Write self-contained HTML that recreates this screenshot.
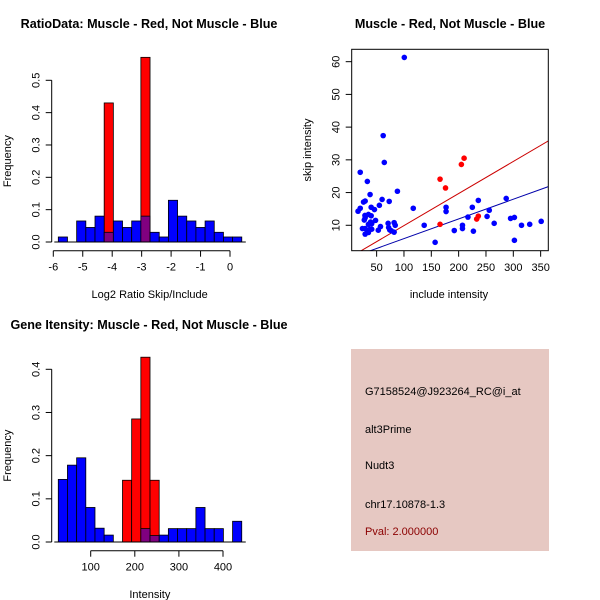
<!DOCTYPE html>
<html><head><meta charset="utf-8"><style>
body{margin:0;background:#fff}
svg{display:block}
text{font-family:"Liberation Sans",sans-serif;font-size:11px;fill:#000}
.t{font-weight:bold;font-size:12.6px}
</style></head><body>
<svg id="s" width="600" height="600"></svg>
<script>
// ---- Panel 1: ratio histogram
const ratioStart = -5.83, ratioBinW = 0.3115;
const ratioBlue = [0.0155,0,0.065,0.045,0.08,0.03,0.065,0.045,0.065,0.08,0.03,0.0155,0.129,0.08,0.065,0.045,0.065,0.03,0.0155,0.0155];
const ratioRed = [0,0,0,0,0,0.43,0,0,0,0.571,0,0,0,0,0,0,0,0,0,0];
const ratioXTicks = [-6,-5,-4,-3,-2,-1,0];
const ratioYTicks = [0,0.1,0.2,0.3,0.4,0.5];
// ---- Panel 2: scatter
const blueX = [100.6,62,64,20,33,88,38,60,73,29,26,55,40,46,20,16,117,35,40,28.6,29,48,27.4,39,41,35,71,82,84,57,53,24,29,33,38,41,35,29,74,77,82,72,137,157,177,177,192,207,207,217,227,225,236,252,256,265,287,295,302,302,315,330,351];
const blueY = [61.3,37.4,29.2,26.2,23.4,20.4,19.4,17.9,17.3,17.4,17.1,16.1,15.5,14.8,15.2,14.3,15.2,13.3,12.9,13,12.3,11.5,11.6,11,10.5,10.3,10.6,10.8,10,9.6,8.5,9,9,8.4,8.8,8.8,7.8,7.3,8.6,8.3,7.9,9.3,10,4.8,15.5,14.2,8.4,10,9,12.5,8.2,15.5,17.6,12.7,14.6,10.6,18.2,12.1,12.4,5.4,10,10.3,11.2];
const redX = [166,176,205,210,166,233,236];
const redY = [24.1,21.4,28.6,30.5,10.3,11.9,12.8];
const redFit = [0.1,0.098];   // intercept, slope
const blueFit = [-0.1,0.0602];
const scXTicks = [50,100,150,200,250,300,350];
const scYTicks = [10,20,30,40,50,60];
// ---- Panel 3: intensity histogram
const intStart = 26.5, intBinW = 20.8;
const intBlue = [0.145,0.178,0.195,0.08,0.032,0.016,0,0,0,0.031,0.015,0.016,0.031,0.031,0.031,0.08,0.031,0.031,0,0.048];
const intRed = [0,0,0,0,0,0,0,0.143,0.285,0.428,0.143,0,0,0,0,0,0,0,0,0];
const intXTicks = [100,200,300,400];
const intYTicks = [0,0.1,0.2,0.3,0.4];

const S = document.getElementById('s'), NS='http://www.w3.org/2000/svg';
function mk(tag, at, parent){const e=document.createElementNS(NS,tag);for(const k in at)e.setAttribute(k,at[k]);(parent||S).appendChild(e);return e;}
function txt(x,y,s,at){const e=mk('text',Object.assign({x:x,y:y},at||{}));e.textContent=s;return e;}

function hist(opts){
  const {x0,x1,v0,v1,yb,yt,d0,d1,start,bw,blue,red,xt,yt2,yAxisX,xAxisY,xlab,xlabY,name}=opts;
  const X=v=>x0+(v-v0)/(v1-v0)*(x1-x0);
  const Y=v=>yb-(v-d0)/(d1-d0)*(yb-yt);
  const g=mk('g',{});  
  red.forEach((v,i)=>{ if(v<=0)return;
    const r=mk('rect',{x:X(start+i*bw),y:Y(v),width:X(start+(i+1)*bw)-X(start+i*bw),height:Y(0)-Y(v),fill:'#ff0000',stroke:'#000','stroke-width':0.8},g);
     });
  blue.forEach((v,i)=>{ if(v<=0)return;
    const over=red[i]>0;
    const r=mk('rect',{x:X(start+i*bw),y:Y(v),width:X(start+(i+1)*bw)-X(start+i*bw),height:Y(0)-Y(v),fill:over?'#800080':'#0000ff',stroke:'#000','stroke-width':0.8},g);
     });
  mk('line',{x1:X(start)-4,x2:X(start+blue.length*bw)+4,y1:Y(0),y2:Y(0),stroke:'#000','stroke-width':1},g);
  const xa=mk('g',{},g);  
  mk('line',{x1:X(xt[0]),x2:X(xt[xt.length-1]),y1:xAxisY,y2:xAxisY,stroke:'#000'},xa);
  xt.forEach(t=>{mk('line',{x1:X(t),x2:X(t),y1:xAxisY,y2:xAxisY+6,stroke:'#000'},xa);
    txt(X(t),xAxisY+20,String(t),{'text-anchor':'middle'});});
  const ya=mk('g',{},g);  
  mk('line',{x1:yAxisX,x2:yAxisX,y1:Y(yt2[0]),y2:Y(yt2[yt2.length-1]),stroke:'#000'},ya);
  yt2.forEach(t=>{mk('line',{x1:yAxisX-6,x2:yAxisX,y1:Y(t),y2:Y(t),stroke:'#000'},ya);
    txt(yAxisX-12,Y(t),t.toFixed(1),{'text-anchor':'middle',transform:'rotate(-90 '+(yAxisX-12)+' '+Y(t)+')'});});
  const xl=txt((X(xt[0])+X(xt[xt.length-1]))/2+ (opts.xlabShift||0),xlabY,xlab,{'text-anchor':'middle'});
   
  const yl=txt(11,(Y(yt2[0])+Y(yt2[yt2.length-1]))/2,'Frequency',{'text-anchor':'middle',transform:'rotate(-90 11 '+((Y(yt2[0])+Y(yt2[yt2.length-1]))/2)+')'});
   
}

let t1=txt(149,28,'RatioData: Muscle - Red, Not Muscle - Blue',{'text-anchor':'middle',class:'t'});
 
hist({x0:53.3,x1:230,v0:-6,v1:0,yb:242,yt:80.3,d0:0,d1:0.5,start:ratioStart,bw:ratioBinW,blue:ratioBlue,red:ratioRed,xt:ratioXTicks,yt2:ratioYTicks,yAxisX:51.7,xAxisY:250.7,xlab:'Log2 Ratio Skip/Include',xlabY:298,xlabShift:8,name:'ratio-histogram'});

let t3=txt(149,329,'Gene Itensity: Muscle - Red, Not Muscle - Blue',{'text-anchor':'middle',class:'t'});
 
hist({x0:90.7,x1:223,v0:100,v1:400,yb:542,yt:369.3,d0:0,d1:0.4,start:intStart,bw:intBinW,blue:intBlue,red:intRed,xt:intXTicks,yt2:intYTicks,yAxisX:51.7,xAxisY:550.7,xlab:'Intensity',xlabY:598,xlabShift:-7,name:'intensity-histogram'});

(function(){
  const X=v=>349.3+v*0.5467, Y=v=>258-v*3.272;
  const g=mk('g',{});  
  let t=txt(450,28,'Muscle - Red, Not Muscle - Blue',{'text-anchor':'middle',class:'t'});
   
  const cp=mk('clipPath',{id:'cp'},g); mk('rect',{x:351.7,y:49.3,width:196.6,height:201.4},cp);
  const L=(f,c,n)=>{const l=mk('line',{x1:X(0),y1:Y(f[0]),x2:X(400),y2:Y(f[0]+f[1]*400),stroke:c,'stroke-width':1,'clip-path':'url(#cp)'},g);
     };
  L(redFit,'#cc0000','red-fit-line'); L(blueFit,'#0000aa','blue-fit-line');
  blueX.forEach((x,i)=>{const c=mk('circle',{cx:X(x),cy:Y(blueY[i]),r:2.8,fill:'#0000ff'},g);
     });
  redX.forEach((x,i)=>{const c=mk('circle',{cx:X(x),cy:Y(redY[i]),r:2.8,fill:'#ff0000'},g);
     });
  mk('rect',{x:351.7,y:49.3,width:196.6,height:201.4,fill:'none',stroke:'#000'},g);
  scXTicks.forEach(v=>{mk('line',{x1:X(v),x2:X(v),y1:250.7,y2:256.7,stroke:'#000'},g);txt(X(v),271,String(v),{'text-anchor':'middle'});});
  scYTicks.forEach(v=>{mk('line',{x1:345.7,x2:351.7,y1:Y(v),y2:Y(v),stroke:'#000'},g);
    txt(339.7,Y(v),String(v),{'text-anchor':'middle',transform:'rotate(-90 339.7 '+Y(v)+')'});});
  t=txt(449,298,'include intensity',{'text-anchor':'middle'});  
  t=txt(311,150,'skip intensity',{'text-anchor':'middle',transform:'rotate(-90 311 150)'});  
})();
</script>
<div style="position:absolute;left:351px;top:349px;width:198px;height:202px;background:#e6c8c2;font-family:'Liberation Sans',sans-serif;font-size:11px">
<div style="position:absolute;left:14px;top:37px">G7158524@J923264_RC@i_at</div>
<div style="position:absolute;left:14px;top:75px">alt3Prime</div>
<div style="position:absolute;left:14px;top:111px">Nudt3</div>
<div style="position:absolute;left:14px;top:150px">chr17.10878-1.3</div>
<div style="position:absolute;left:14px;top:177px;color:#8b0000">Pval: 2.000000</div>
</div>
</body></html>
